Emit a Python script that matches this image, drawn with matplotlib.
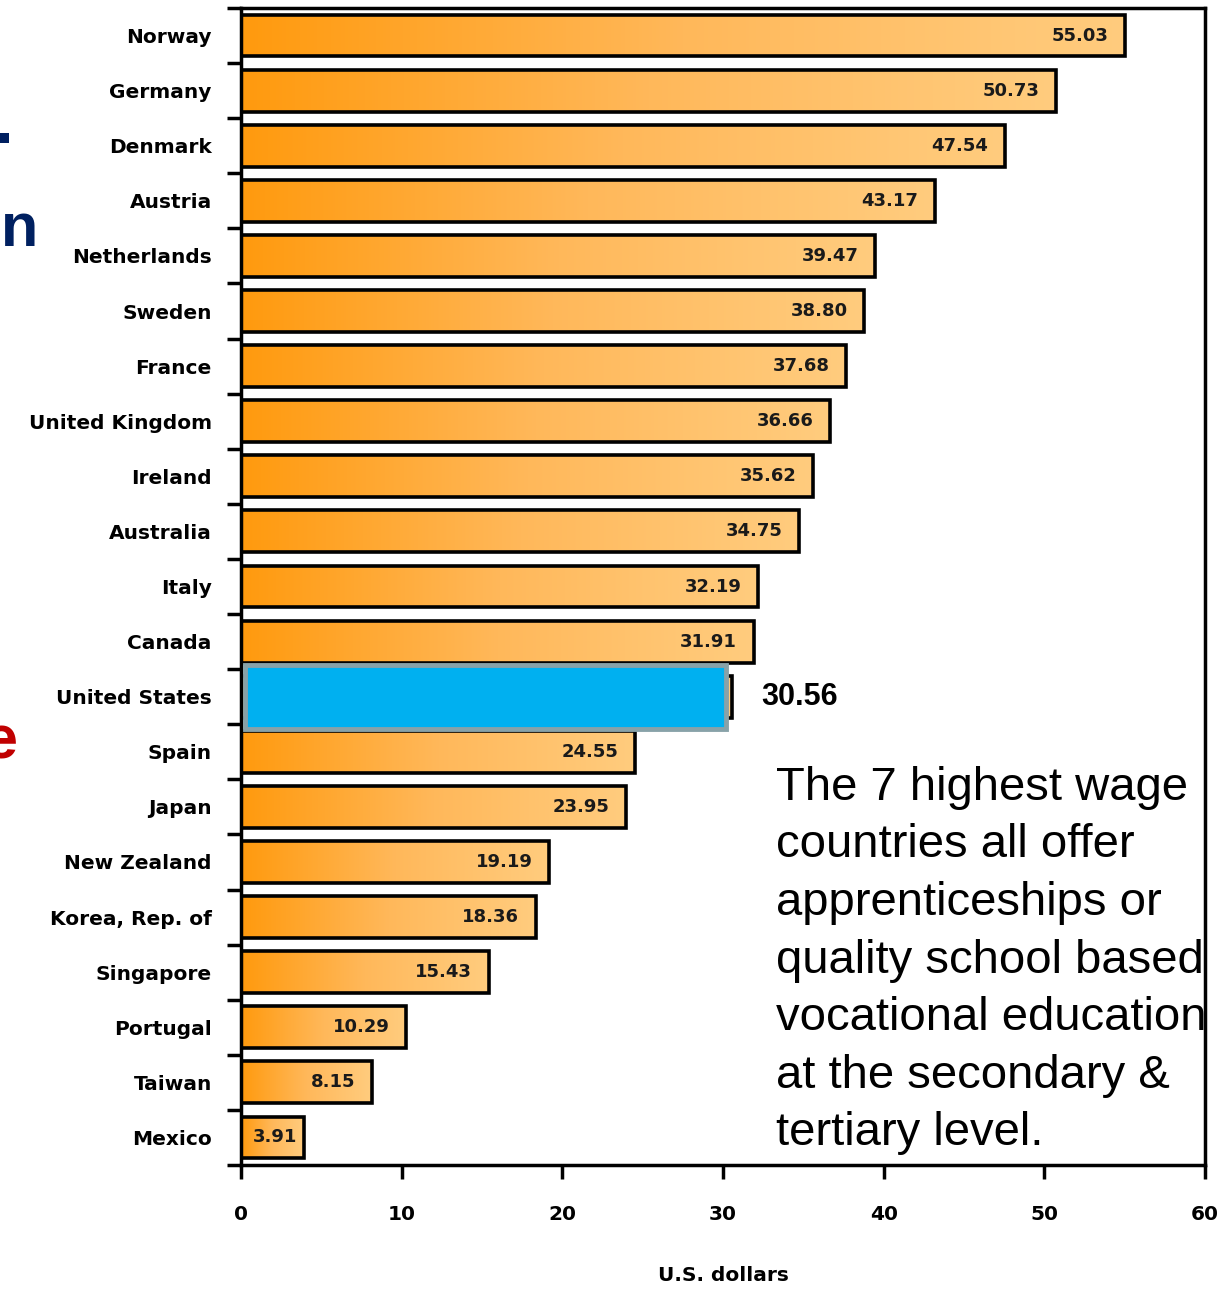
import matplotlib
matplotlib.use('Agg')
import matplotlib.pyplot as plt
import numpy as np
from matplotlib.colors import LinearSegmentedColormap
from matplotlib.patches import Rectangle

countries = ['Norway', 'Germany', 'Denmark', 'Austria', 'Netherlands', 'Sweden',
             'France', 'United Kingdom', 'Ireland', 'Australia', 'Italy', 'Canada',
             'United States', 'Spain', 'Japan', 'New Zealand', 'Korea, Rep. of',
             'Singapore', 'Portugal', 'Taiwan', 'Mexico']
wages = [55.03, 50.73, 47.54, 43.17, 39.47, 38.80, 37.68, 36.66, 35.62, 34.75,
         32.19, 31.91, 30.56, 24.55, 23.95, 19.19, 18.36, 15.43, 10.29, 8.15, 3.91]
labels = ['55.03', '50.73', '47.54', '43.17', '39.47', '38.80', '37.68', '36.66',
          '35.62', '34.75', '32.19', '31.91', '30.56', '24.55', '23.95', '19.19',
          '18.36', '15.43', '10.29', '8.15', '3.91']
highlight = 'United States'
note = ('The 7 highest wage\ncountries all offer\napprenticeships or\n'
        'quality school based\nvocational education\nat the secondary &\ntertiary level.')

grad = LinearSegmentedColormap.from_list('orng', ['#FF9A0E', '#FFB85A', '#FFCC7E'])
BAR_H = 0.76

fig = plt.figure(figsize=(12.31, 12.90), dpi=100)
fig.patch.set_facecolor('white')
ax = fig.add_axes([241/1231, 1 - 1165/1290, 964/1231, 1157/1290])

y = np.arange(len(countries))
ramp = np.linspace(0, 1, 256).reshape(1, -1)
for yi, (c, v, lab) in enumerate(zip(countries, wages, labels)):
    bars = ax.barh(yi, v, height=BAR_H, facecolor='none', edgecolor='black',
                   linewidth=2.6, zorder=3)
    im = ax.imshow(ramp, cmap=grad, aspect='auto', zorder=2,
                   extent=[0, v, yi + BAR_H / 2, yi - BAR_H / 2])
    im.set_clip_path(bars[0])
    if c == highlight:
        ax.add_patch(Rectangle((0.25, yi - 0.58), v - 0.6, 1.16,
                               facecolor='#00B0F0', edgecolor='#88A2A8',
                               linewidth=3.5, zorder=4))
        ax.annotate(lab, (v, yi), xytext=(21, 0), textcoords='offset points',
                    ha='left', va='center', fontsize=22, fontweight='bold',
                    family='Liberation Sans', zorder=5)
    else:
        off = -12 if v > 5 else -5
        ax.annotate(lab, (v, yi), xytext=(off, 0), textcoords='offset points',
                    ha='right', va='center', fontsize=13, fontweight='bold',
                    color='#1a1a1a', family='DejaVu Sans', zorder=5)

ax.set_xlim(0, 60)
ax.set_ylim(len(countries) - 0.5, -0.5)
ax.set_xticks(range(0, 61, 10))
ax.set_yticks(y)
ax.set_yticklabels(countries, fontsize=14.5, fontweight='bold', family='DejaVu Sans')
ax.set_xticklabels([str(t) for t in range(0, 61, 10)], fontsize=14.5, fontweight='bold')
ax.set_yticks(np.arange(-0.5, len(countries), 1), minor=True)
ax.tick_params(axis='y', which='major', length=0, pad=21)
ax.tick_params(axis='y', which='minor', length=10, width=2.5, direction='out')
ax.tick_params(axis='x', length=10, width=2.5, direction='out', pad=19)
ax.set_xlabel('U.S. dollars', fontsize=14.5, fontweight='bold', labelpad=30)
for s in ax.spines.values():
    s.set_linewidth(2.5)

ax.text(0.555, 0.345, note, transform=ax.transAxes, ha='left', va='top',
        fontsize=34, family='Liberation Sans', linespacing=1.4, zorder=6)

# cut-off slide title letters at the left edge
fig.text(38/1231, 1 - 230/1290, 'n', ha='right', va='center', fontsize=44,
         fontweight='bold', color='#002060', family='Liberation Sans')
fig.text(18/1231, 1 - 743/1290, 'e', ha='right', va='center', fontsize=44,
         fontweight='bold', color='#C00000', family='Liberation Sans')
fig.patches.append(Rectangle((0, 1 - 143/1290), 9/1231, 10/1290,
                             transform=fig.transFigure, facecolor='#002060',
                             edgecolor='none'))

plt.savefig('out.png', dpi=100, facecolor='white')
plt.close(fig)
